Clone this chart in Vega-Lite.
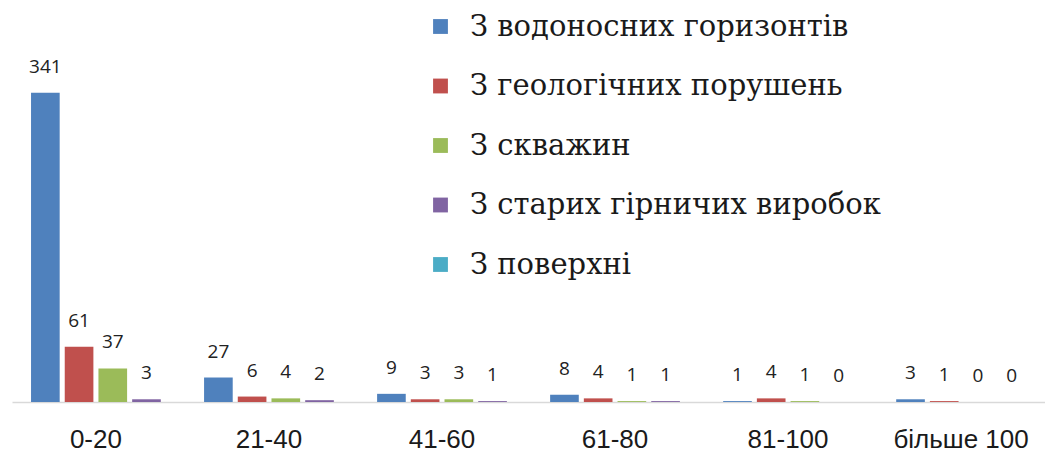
{
  "$schema": "https://vega.github.io/schema/vega-lite/v6.json",
  "autosize": {"type": "none"},
  "width": 1033,
  "height": 381,
  "padding": {"left": 12, "top": 21, "right": 0, "bottom": 50},
  "background": "white",
  "config": {"view": {"stroke": null}},
  "data": {
    "values": [
      {"cat": "0-20", "series": "З водоносних горизонтів", "value": 341},
      {"cat": "0-20", "series": "З геологічних порушень", "value": 61},
      {"cat": "0-20", "series": "З скважин", "value": 37},
      {"cat": "0-20", "series": "З старих гірничих виробок", "value": 3},
      {"cat": "21-40", "series": "З водоносних горизонтів", "value": 27},
      {"cat": "21-40", "series": "З геологічних порушень", "value": 6},
      {"cat": "21-40", "series": "З скважин", "value": 4},
      {"cat": "21-40", "series": "З старих гірничих виробок", "value": 2},
      {"cat": "41-60", "series": "З водоносних горизонтів", "value": 9},
      {"cat": "41-60", "series": "З геологічних порушень", "value": 3},
      {"cat": "41-60", "series": "З скважин", "value": 3},
      {"cat": "41-60", "series": "З старих гірничих виробок", "value": 1},
      {"cat": "61-80", "series": "З водоносних горизонтів", "value": 8},
      {"cat": "61-80", "series": "З геологічних порушень", "value": 4},
      {"cat": "61-80", "series": "З скважин", "value": 1},
      {"cat": "61-80", "series": "З старих гірничих виробок", "value": 1},
      {"cat": "81-100", "series": "З водоносних горизонтів", "value": 1},
      {"cat": "81-100", "series": "З геологічних порушень", "value": 4},
      {"cat": "81-100", "series": "З скважин", "value": 1},
      {"cat": "81-100", "series": "З старих гірничих виробок", "value": 0},
      {"cat": "більше 100", "series": "З водоносних горизонтів", "value": 3},
      {"cat": "більше 100", "series": "З геологічних порушень", "value": 1},
      {"cat": "більше 100", "series": "З скважин", "value": 0},
      {"cat": "більше 100", "series": "З старих гірничих виробок", "value": 0}
    ]
  },
  "encoding": {
    "x": {
      "field": "cat", "type": "nominal", "sort": null,
      "scale": {"paddingInner": 0.25, "paddingOuter": 0.11},
      "axis": {
        "title": null, "labelAngle": 0, "ticks": false,
        "domainColor": "#d9d9d9", "domainWidth": 1.5,
        "labelFont": "Liberation Sans", "labelFontSize": 26, "labelColor": "#1a1a1a",
        "labelPadding": 24
      }
    },
    "xOffset": {
      "field": "series", "type": "nominal", "sort": null,
      "scale": {"domain": ["З водоносних горизонтів", "З геологічних порушень", "З скважин", "З старих гірничих виробок"], "paddingInner": 0.15, "paddingOuter": 0}
    },
    "y": {
      "field": "value", "type": "quantitative",
      "scale": {"domain": [0, 420], "nice": false},
      "axis": null
    }
  },
  "layer": [
    {
      "mark": {"type": "bar"},
      "encoding": {
        "color": {
          "field": "series", "type": "nominal",
          "scale": {
            "domain": ["З водоносних горизонтів", "З геологічних порушень", "З скважин", "З старих гірничих виробок", "З поверхні"],
            "range": ["#4F81BD", "#C0504D", "#9BBB59", "#8064A2", "#4BACC6"]
          },
          "legend": {
            "title": null, "orient": "none", "legendX": 414, "legendY": -9,
            "symbolType": "square", "symbolSize": 220, "symbolStrokeWidth": 0,
            "labelFont": "DejaVu Serif", "labelFontSize": 29, "labelColor": "#1a1a1a",
            "labelOffset": 15, "rowPadding": 29.5, "labelLimit": 700
          }
        }
      }
    },
    {
      "mark": {"type": "text", "baseline": "bottom", "dy": -16, "font": "Open Sans", "fontSize": 19, "color": "#222222"},
      "encoding": {
        "text": {"field": "value", "type": "quantitative"}
      }
    }
  ]
}
